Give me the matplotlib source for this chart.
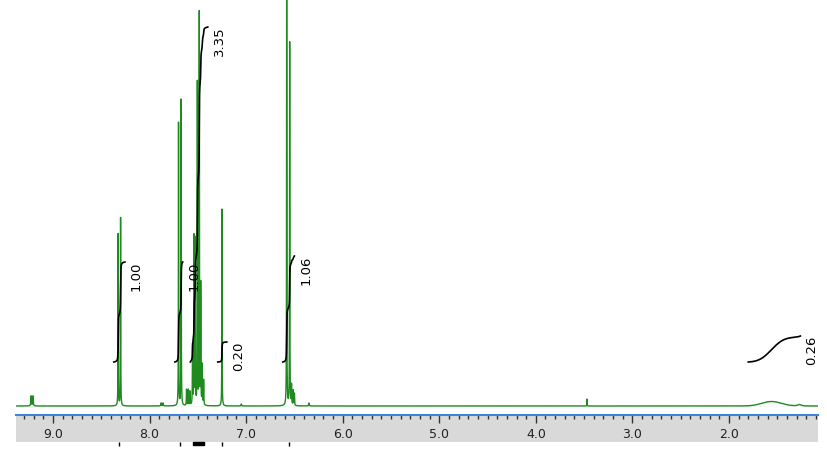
import numpy as np
import matplotlib
matplotlib.use("Agg")
import matplotlib.pyplot as plt
from matplotlib.ticker import MultipleLocator

# peak list: shift (ppm), height (px above baseline), half width (ppm)
peak_ppm = [9.227, 9.207, 8.325, 8.300, 7.700, 7.673, 7.617, 7.600, 7.582,
            7.555, 7.540, 7.527, 7.505, 7.485, 7.470, 7.455, 7.440,
            7.250, 7.880, 7.860, 7.050, 6.580, 6.549, 6.530, 6.512, 6.500,
            6.350, 3.470, 1.270]
peak_h = [10, 10, 172, 188, 283, 306, 16, 16, 14,
          60, 168, 165, 322, 392, 120, 40, 25,
          197, 3, 3, 2, 430, 363, 20, 15, 12,
          3, 7, 1.5]
peak_w = [0.003, 0.003, 0.0015, 0.0015, 0.0015, 0.0015, 0.002, 0.002, 0.002,
          0.002, 0.0015, 0.0015, 0.0015, 0.0015, 0.0015, 0.002, 0.002,
          0.0015, 0.003, 0.003, 0.003, 0.0015, 0.0015, 0.002, 0.002, 0.002,
          0.003, 0.0015, 0.02]

# broad hump (water / NH), gaussian
broad_ppm = 1.56
broad_h = 4.5
broad_sigma = 0.1

# integral regions (ppm start, ppm end) and values
int_start = [8.370, 7.738, 7.578, 7.294, 6.620, 1.800]
int_end = [8.255, 7.656, 7.397, 7.200, 6.500, 1.260]
int_val = [1.00, 1.00, 3.35, 0.20, 1.06, 0.26]

major_ticks = [9.0, 8.0, 7.0, 6.0, 5.0, 4.0, 3.0, 2.0]
marks = [8.315, 7.685, 7.245, 6.555]

x_left, x_right = 9.383, 1.078
ppm = np.linspace(x_left, x_right, 80000)
spec = np.zeros_like(ppm)
for p, h, w in zip(peak_ppm, peak_h, peak_w):
    spec += h * w**2 / ((ppm - p)**2 + w**2)
spec += broad_h * np.exp(-0.5 * ((ppm - broad_ppm) / broad_sigma)**2)

W, H = 828, 456
fig = plt.figure(figsize=(W / 100, H / 100), dpi=100)

ax = fig.add_axes([16 / W, (H - 408) / H, 802 / W, 408 / H])
ax.set_xlim(x_left, x_right)
ax.set_ylim(-1, 407)
ax.axis("off")
ax.axhline(-0.5, color="#d0d0d0", lw=1, zorder=1)
ax.plot(ppm, spec, color="#1f8b1f", lw=1, zorder=2)

offset = 44
for a, b, v in zip(int_start, int_end, int_val):
    m = (ppm <= a) & (ppm >= b)
    c = np.cumsum(spec[m])
    c = c / c[-1]
    y = offset + v * 100 * c
    ax.plot(ppm[m], y, color="black", lw=1.2, zorder=3)
    ax.text(b - 0.12, y[-1] - 13, f"{v:.2f}", rotation=90, ha="center",
            va="center", fontsize=9.5, color="black")

ax2 = fig.add_axes([16 / W, (H - 443) / H, 802 / W, 27 / H])
ax2.set_xlim(x_left, x_right)
ax2.set_ylim(0, 1)
ax2.set_facecolor("#d9d9d9")
for s in ["left", "right", "bottom"]:
    ax2.spines[s].set_visible(False)
ax2.spines["top"].set_color("#3d85d6")
ax2.spines["top"].set_linewidth(1.5)
ax2.set_xticks(major_ticks)
ax2.xaxis.set_minor_locator(MultipleLocator(0.1))
ax2.set_yticks([])
ax2.tick_params(axis="x", which="both", top=True, bottom=False,
                direction="in", labeltop=False, labelbottom=False,
                color="#333333", width=1)
ax2.tick_params(axis="x", which="major", length=6)
ax2.tick_params(axis="x", which="minor", length=3)
for t in major_ticks:
    ax2.text(t, 0.3, f"{t:.1f}", ha="center", va="center", fontsize=9,
             color="#222222")

tr = ax2.get_xaxis_transform()
ax2.vlines(marks, -0.14, 0, color="black", lw=1, transform=tr, clip_on=False)
ax2.fill_between([7.545, 7.44], -0.1, 0, color="black", transform=tr,
                 clip_on=False)

fig.savefig("out.png", dpi=100)
